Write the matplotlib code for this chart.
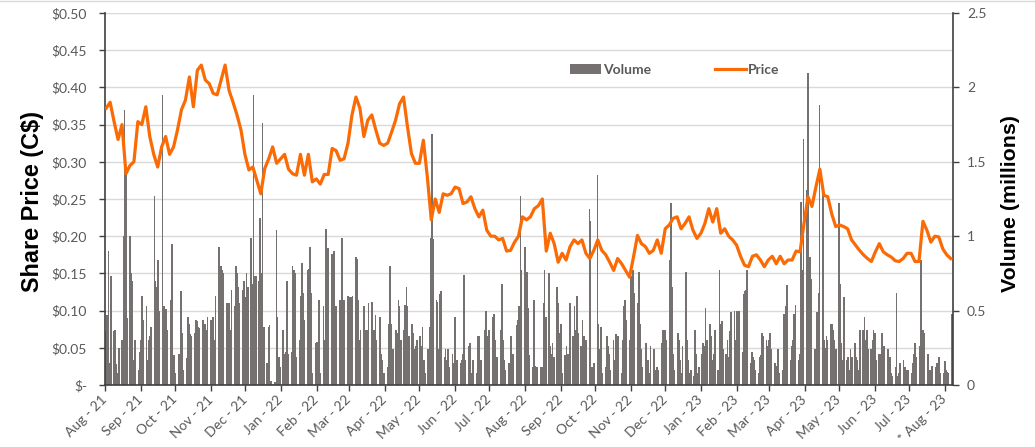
import matplotlib
matplotlib.use("Agg")
import matplotlib.pyplot as plt
from matplotlib.lines import Line2D
from matplotlib.ticker import MultipleLocator, FuncFormatter
import pandas as pd

price = [
    0.372, 0.380, 0.354, 0.330, 0.350, 0.284, 0.295, 0.300, 0.354, 0.350,
    0.374, 0.334, 0.310, 0.293, 0.320, 0.334, 0.310, 0.320, 0.343, 0.370,
    0.383, 0.414, 0.374, 0.423, 0.430, 0.410, 0.405, 0.392, 0.390, 0.410,
    0.430, 0.396, 0.380, 0.363, 0.343, 0.310, 0.289, 0.293, 0.275, 0.257,
    0.291, 0.304, 0.320, 0.298, 0.304, 0.310, 0.290, 0.284, 0.282, 0.310,
    0.282, 0.310, 0.273, 0.277, 0.270, 0.283, 0.283, 0.318, 0.315, 0.302,
    0.304, 0.325, 0.363, 0.387, 0.372, 0.334, 0.356, 0.363, 0.343, 0.325,
    0.322, 0.325, 0.340, 0.356, 0.378, 0.387, 0.347, 0.311, 0.298, 0.298,
    0.329, 0.280, 0.222, 0.250, 0.232, 0.257, 0.255, 0.257, 0.266, 0.264,
    0.244, 0.246, 0.253, 0.237, 0.226, 0.235, 0.208, 0.200, 0.200, 0.195,
    0.197, 0.180, 0.181, 0.192, 0.200, 0.226, 0.222, 0.226, 0.237, 0.241,
    0.250, 0.180, 0.204, 0.190, 0.165, 0.177, 0.168, 0.186, 0.195, 0.190,
    0.195, 0.177, 0.170, 0.181, 0.195, 0.181, 0.175, 0.165, 0.154, 0.170,
    0.163, 0.154, 0.145, 0.172, 0.201, 0.190, 0.186, 0.177, 0.181, 0.195,
    0.177, 0.210, 0.215, 0.224, 0.226, 0.210, 0.217, 0.226, 0.208, 0.197,
    0.204, 0.217, 0.237, 0.219, 0.237, 0.204, 0.210, 0.200, 0.195, 0.188,
    0.173, 0.161, 0.159, 0.173, 0.175, 0.168, 0.159, 0.168, 0.173, 0.163,
    0.173, 0.163, 0.168, 0.168, 0.180, 0.179, 0.217, 0.253, 0.240, 0.266,
    0.290, 0.255, 0.253, 0.230, 0.213, 0.215, 0.213, 0.210, 0.195, 0.188,
    0.181, 0.175, 0.170, 0.166, 0.179, 0.190, 0.179, 0.175, 0.172, 0.167,
    0.166, 0.170, 0.177, 0.177, 0.166, 0.166, 0.220, 0.208, 0.192, 0.200,
    0.199, 0.183, 0.175, 0.170,
]

# daily volume (millions), one row per month, Aug-21 .. Aug-23
volume = [
    0.36, 0.47, 0.90, 0.15, 0.73, 0.36, 0.37, 0.14, 0.08, 0.25, 0.30, 1.00, 1.85, 1.42, 0.45, 1.00, 0.75, 0.70, 0.17, 0.30, 0.10, 0.22,
    0.30, 0.60, 0.44, 0.53, 0.17, 0.30, 0.33, 0.39, 1.27, 0.70, 0.66, 0.84, 0.50, 1.95, 0.53, 0.46, 0.51, 0.37, 0.57, 0.95, 0.08, 0.20,
    0.08, 0.21, 0.20, 0.63, 0.35, 0.10, 0.18, 0.46, 0.41, 0.34, 0.33, 0.35, 0.44, 0.43, 0.39, 0.38, 0.44, 0.39, 0.41, 0.37, 0.46,
    0.44, 0.39, 0.46, 0.30, 0.60, 0.93, 0.64, 0.80, 0.77, 0.75, 0.55, 0.39, 0.55, 0.37, 0.64, 0.53, 0.80, 0.75, 0.66, 0.55, 0.64, 0.70,
    0.59, 0.75, 0.66, 0.99, 0.68, 1.95, 0.73, 0.73, 0.70, 1.12, 0.75, 1.76, 0.39, 0.15, 0.39, 0.40, 0.03, 0.01, 0.02, 1.04, 0.46, 0.19, 0.12,
    0.37, 0.21, 0.22, 0.70, 0.21, 0.22, 0.80, 0.77, 0.75, 0.19, 0.30, 0.60, 0.82, 0.62, 0.44, 0.77, 0.78, 0.93, 0.62, 0.08, 0.28,
    0.29, 0.07, 0.57, 0.08, 0.53, 0.30, 1.05, 0.44, 0.92, 0.88, 0.41, 0.90, 0.35, 0.53, 0.57, 0.50, 0.99, 0.41, 0.57, 0.60,
    0.57, 0.59, 0.59, 0.60, 0.86, 0.85, 0.57, 0.30, 0.37, 0.53, 0.37, 0.30, 0.37, 0.55, 0.56, 0.30, 0.37, 0.47, 0.30, 0.46, 0.21, 0.17, 0.08,
    0.08, 0.12, 0.41, 0.80, 0.41, 0.24, 0.37, 0.35, 0.57, 0.53, 0.30, 0.37, 0.54, 0.66, 0.53, 0.33, 0.41, 0.35, 0.24, 0.26, 0.30,
    0.33, 0.26, 0.39, 0.17, 0.08, 0.24, 0.39, 0.99, 1.69, 0.98, 0.57, 0.56, 0.24, 0.61, 0.63, 0.19, 0.24, 0.17, 0.24, 0.12, 0.21, 0.15,
    0.46, 0.08, 0.17, 0.15, 0.17, 0.21, 0.74, 0.17, 0.26, 0.28, 0.06, 0.08, 0.17, 0.08, 0.33, 0.33, 0.06, 0.17, 0.37, 0.50, 0.33, 0.10,
    0.37, 0.46, 0.48, 0.30, 0.10, 0.19, 0.37, 0.68, 0.30, 0.17, 0.10, 0.15, 0.15, 0.33, 0.21, 0.21, 0.40, 0.44, 0.53, 1.27, 0.77,
    0.93, 0.23, 0.76, 0.52, 0.20, 0.12, 0.57, 0.13, 0.12, 0.12, 0.12, 0.12, 0.55, 0.77, 0.46, 0.75, 0.26, 0.21, 0.28, 0.19, 0.66, 0.55, 0.35,
    0.41, 0.08, 0.20, 0.26, 0.21, 0.21, 0.55, 0.33, 0.53, 0.37, 0.60, 0.35, 0.26, 0.44, 0.33, 0.21, 0.30, 1.18, 1.10, 0.12, 0.08, 0.15,
    1.41, 0.41, 0.24, 0.39, 0.08, 0.12, 0.33, 0.26, 0.21, 0.10, 0.30, 0.17, 0.34, 0.12, 0.33, 0.08, 0.30, 0.53, 0.57, 0.44, 0.30,
    0.73, 0.62, 0.77, 0.62, 0.55, 0.76, 0.41, 0.24, 0.12, 0.28, 0.10, 0.17, 0.08, 0.26, 0.24, 0.10, 0.03, 0.12, 0.10, 0.28, 0.37, 0.20,
    0.37, 0.30, 0.84, 1.22, 0.66, 0.21, 0.10, 0.35, 0.30, 0.17, 0.08, 0.26, 0.76, 0.30, 0.17, 0.08, 0.10, 0.06, 0.37, 0.21, 0.08, 0.12,
    0.21, 0.28, 0.26, 0.52, 0.30, 0.41, 0.33, 0.17, 0.21, 0.37, 0.10, 0.77, 0.41, 0.43, 0.24, 0.21, 0.30, 0.19, 0.36, 0.49, 0.50, 0.30,
    0.50, 0.29, 0.50, 0.22, 0.61, 0.63, 0.64, 0.77, 0.15, 0.22, 0.19, 0.17, 0.10, 0.08, 0.19, 0.20, 0.35, 0.33, 0.30, 0.26,
    0.30, 0.35, 0.24, 0.15, 0.08, 0.13, 0.24, 0.08, 0.10, 0.48, 0.35, 0.53, 0.67, 0.17, 0.26, 0.30, 0.48, 0.54, 0.17, 0.21, 1.23, 0.77, 1.65,
    1.31, 2.10, 0.75, 0.86, 0.71, 0.24, 0.17, 0.49, 0.62, 1.88, 1.29, 0.30, 0.25, 0.33, 0.30, 0.41, 0.41, 0.37, 0.30, 0.24,
    1.22, 0.68, 0.28, 0.17, 0.59, 0.17, 0.19, 0.10, 0.24, 0.19, 0.28, 0.19, 0.17, 0.10, 0.37, 0.37, 0.46, 0.30, 0.37, 0.24, 0.24, 0.30, 0.37,
    0.35, 0.17, 0.21, 0.21, 0.35, 0.17, 0.26, 0.24, 0.24, 0.19, 0.08, 0.06, 0.12, 0.62, 0.06, 0.08, 0.15, 0.17, 0.12, 0.10, 0.08, 0.10,
    0.08, 0.15, 0.21, 0.28, 0.19, 0.26, 0.84, 0.17, 0.37, 0.35, 0.21, 0.10, 0.08, 0.10, 0.13, 0.12, 0.15, 0.10, 0.19, 0.08, 0.08,
    0.16, 0.10, 0.09, 0.08, 0.48,
]

month_ticks = pd.date_range("2021-08-01", "2023-08-01", freq="MS")
tick_labels = [d.strftime("%b - %y") for d in month_ticks]
tick_labels[-1] = "* " + tick_labels[-1]     # partial month

price_dates = pd.date_range("2021-08-02", "2023-08-06", periods=len(price))
vol_dates = pd.bdate_range("2021-08-02", periods=len(volume))

TXT = "#595959"
AXC = "#404040"
plt.rcParams["font.family"] = ["Lato", "DejaVu Sans"]

fig = plt.figure(figsize=(10.35, 4.47), dpi=100)
ax = fig.add_axes([105 / 1035, 62 / 447, 848 / 1035, 372 / 447])
axv = ax.twinx()
ax.set_zorder(axv.get_zorder() + 1)
ax.patch.set_visible(False)

# volume bars on the right scale, behind the price line
bars = axv.bar(vol_dates, volume, width=1.5, color="#767171", zorder=2)
axv.set_ylim(0, 2.5)
axv.yaxis.set_major_locator(MultipleLocator(0.5))
axv.yaxis.set_minor_locator(MultipleLocator(0.25))
axv.yaxis.set_major_formatter(FuncFormatter(lambda v, _: f"{v:g}"))
axv.grid(axis="y", which="both", color="#d9d9d9", lw=1)
axv.set_axisbelow(True)
axv.tick_params(axis="y", which="major", length=4, width=1, color=AXC,
                labelsize=10, labelcolor=TXT, pad=6)
axv.tick_params(axis="y", which="minor", length=0)

line, = ax.plot(price_dates, price, color="#FA6A05", lw=2.3,
                solid_joinstyle="round", zorder=3)
ax.set_ylim(0, 0.5)
ax.yaxis.set_major_locator(MultipleLocator(0.05))
ax.yaxis.set_major_formatter(FuncFormatter(lambda v, _: "$-" if abs(v) < 1e-9 else f"${v:.2f}"))
ax.tick_params(axis="y", length=4, width=1, color=AXC, labelsize=10,
               labelcolor=TXT, pad=9)

ax.set_xlim(pd.Timestamp("2021-08-01"), pd.Timestamp("2023-08-08"))
ax.set_xticks(month_ticks)
ax.set_xticklabels(tick_labels, rotation=45, ha="right", va="center",
                   rotation_mode="anchor")
ax.tick_params(axis="x", length=4, width=1, color=AXC, labelsize=10,
               labelcolor=TXT, pad=5)

for a in (ax, axv):
    a.spines["top"].set_visible(False)
ax.spines["right"].set_visible(False)
axv.spines["left"].set_visible(False)
axv.spines["bottom"].set_visible(False)
for s in (ax.spines["left"], ax.spines["bottom"], axv.spines["right"]):
    s.set_color(AXC)
    s.set_linewidth(1.2)

leg = ax.legend([bars, line], ["Volume", "Price"], loc="center",
                bbox_to_anchor=(0.672, 0.847), ncol=2, frameon=False,
                handlelength=2.2, handletextpad=0.15, columnspacing=4.6,
                prop={"family": "Lato", "weight": "bold", "size": 10})
for t in leg.get_texts():
    t.set_color(TXT)

fig.text(33 / 1035, 1 - 202 / 447, "Share Price (C$)", rotation=90,
         ha="center", va="center", fontsize=16.9, fontweight="bold",
         family="Liberation Sans", color="black")
fig.text(1010 / 1035, 1 - 204 / 447, "Volume (millions)", rotation=90,
         ha="center", va="center", fontsize=15.4, fontweight="bold",
         family="Liberation Sans", color="black")

fig.add_artist(Line2D([0, 1], [0.998, 0.998], transform=fig.transFigure,
                      color="#d9d9d9", lw=1))

fig.savefig("out.png", dpi=100, facecolor="white")
